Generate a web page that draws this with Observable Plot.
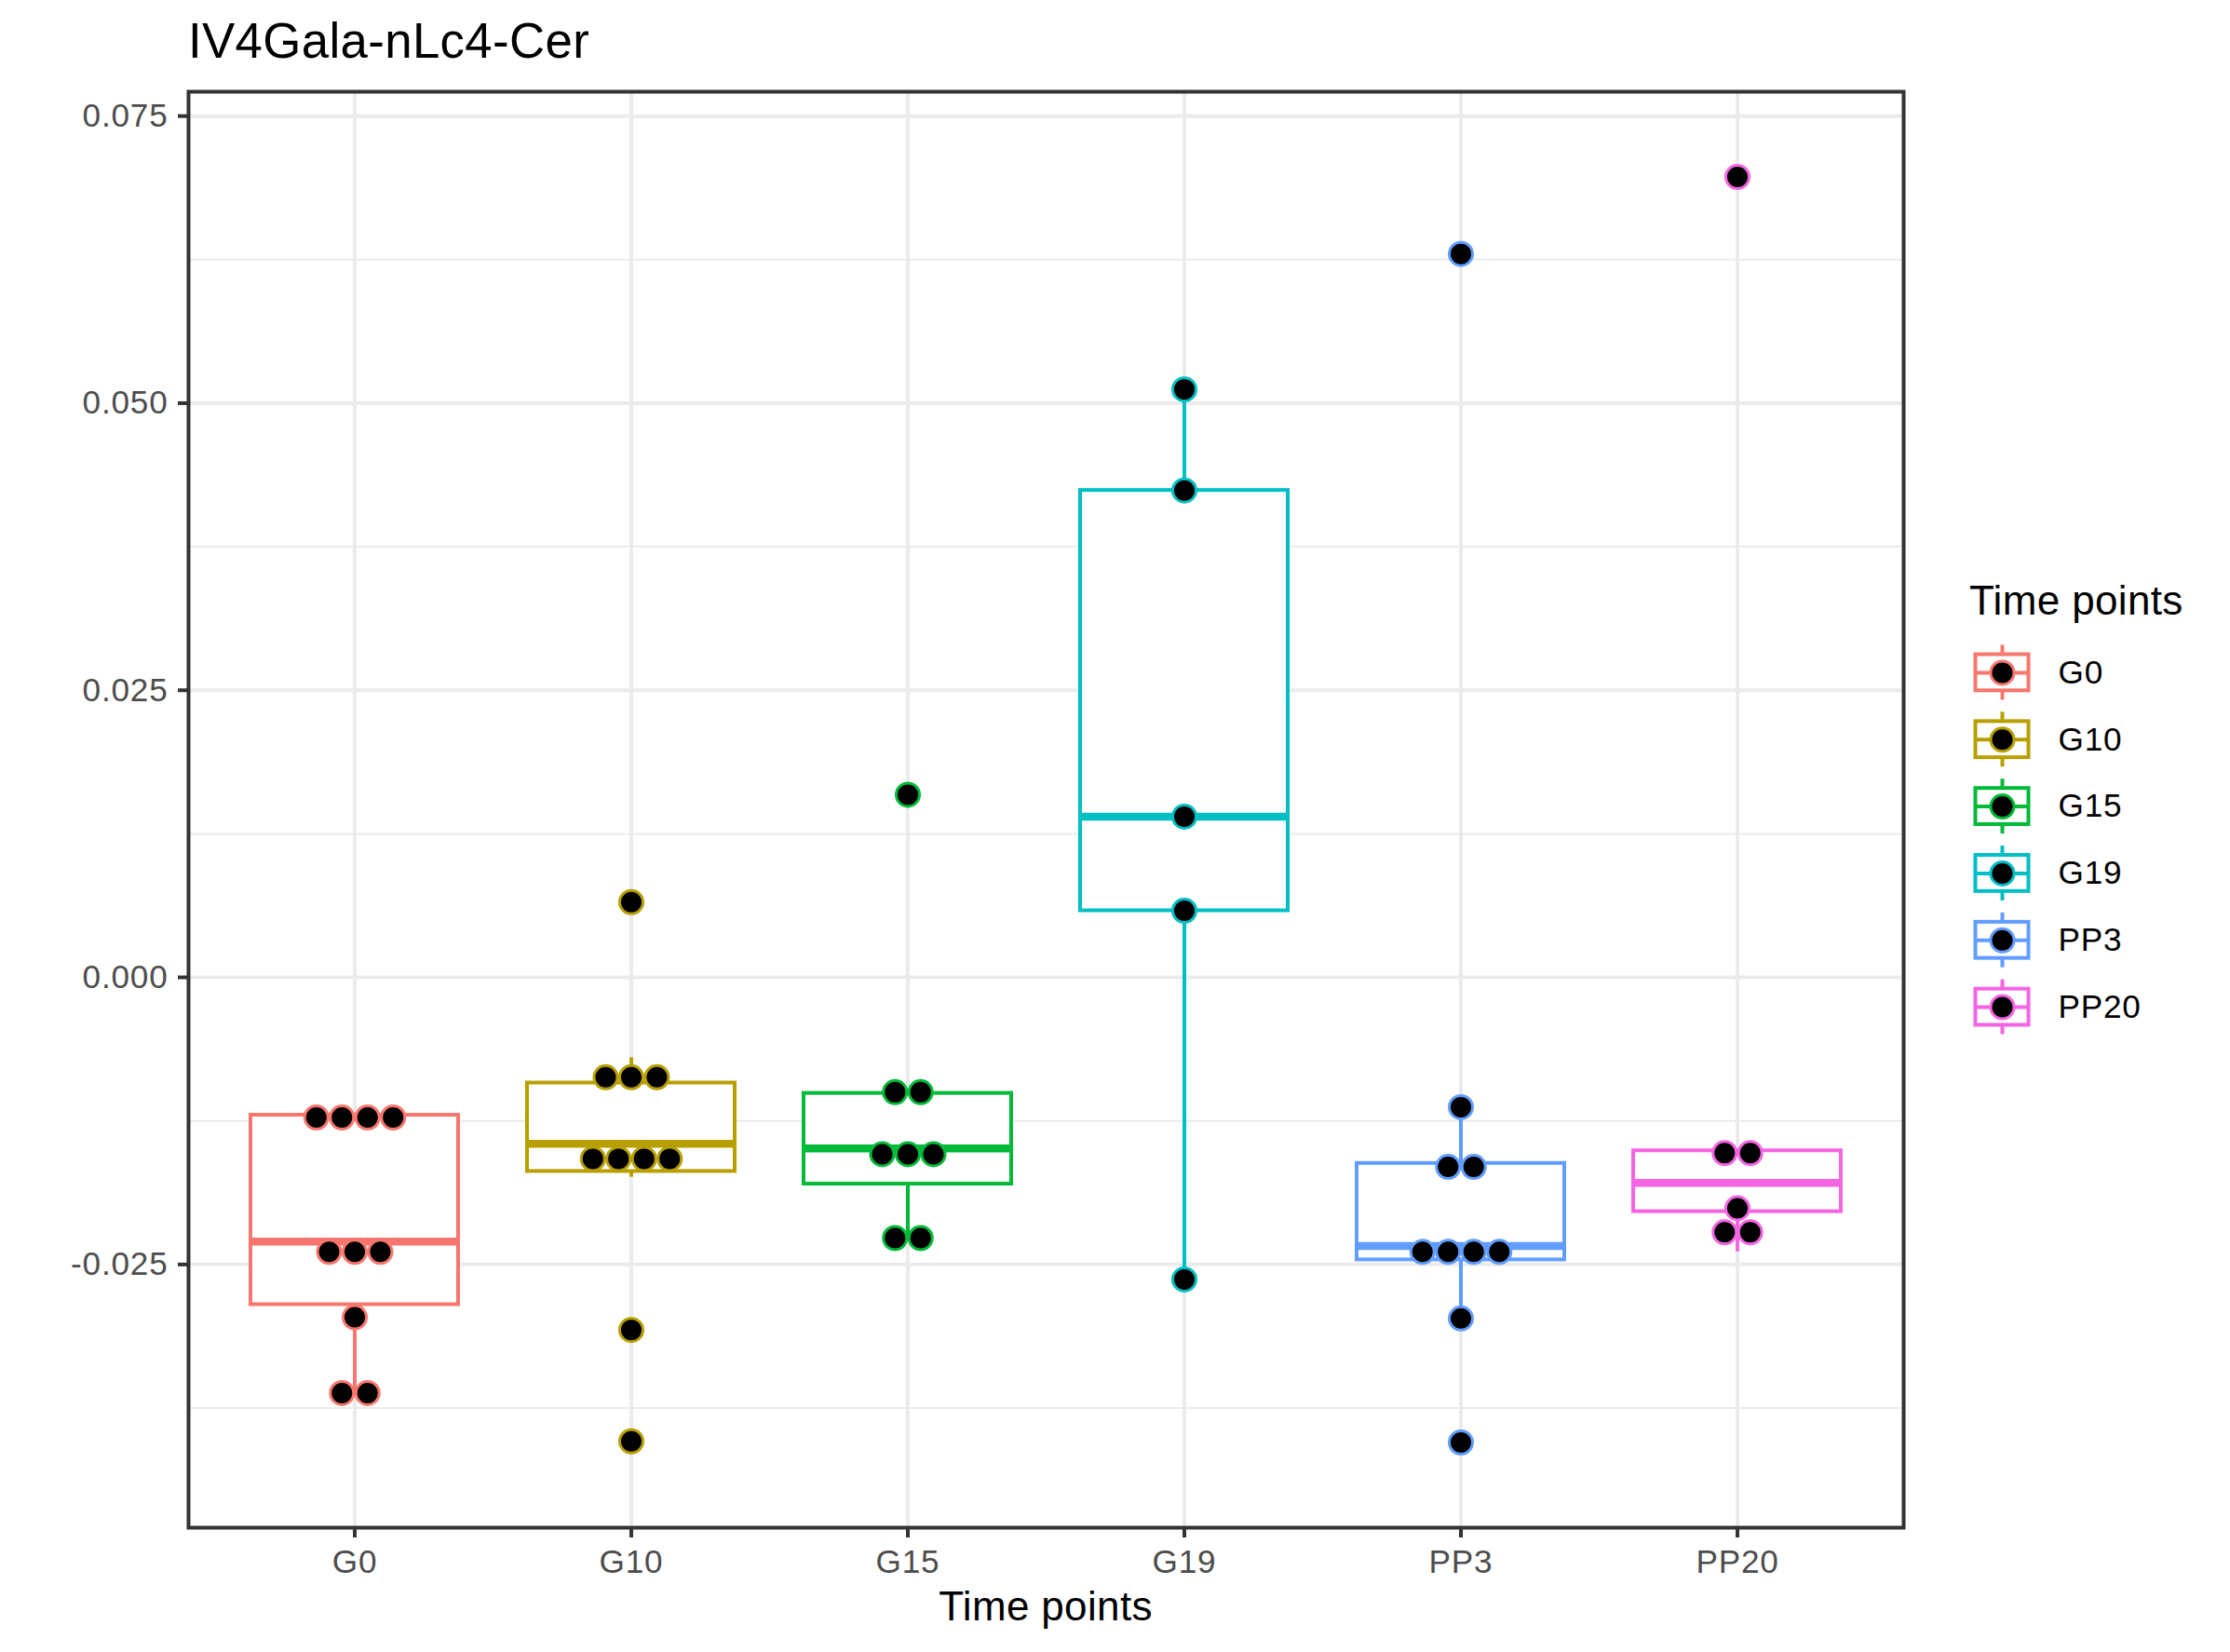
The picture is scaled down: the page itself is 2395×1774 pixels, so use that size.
<!DOCTYPE html>
<html><head><meta charset="utf-8">
<script src="https://cdn.jsdelivr.net/npm/d3@7"></script>
<script src="https://cdn.jsdelivr.net/npm/@observablehq/plot@0.6"></script>
<style>
html,body{margin:0;padding:0;background:#fff;}
#page{position:relative;width:2395px;height:1774px;font-family:"Liberation Sans",Arial,Helvetica,sans-serif;overflow:hidden;letter-spacing:0.022em;}
#title{position:absolute;left:202px;top:18px;font-size:52.8px;line-height:1;color:#000;white-space:nowrap;}
#chart{position:absolute;left:0;top:94px;}
#xtitle{position:absolute;left:202px;width:1842px;top:1703px;text-align:center;font-size:44px;line-height:1;color:#000;}
#legend{position:absolute;left:2100px;top:623px;}
#legendTitle{font-size:44px;line-height:1;margin-left:15px;white-space:nowrap;color:#000;}
</style></head>
<body><div id="page">
<div id="title">IV4Gala-nLc4-Cer</div>
<div id="chart"></div>
<div id="xtitle">Time points</div>
<div id="legend"><div id="legendTitle">Time points</div><div id="legendKeys"></div></div>
</div>
<script>
// ---- data ----
const categories = ["G0", "G10", "G15", "G19", "PP3", "PP20"];
const palette = ["#F8766D", "#B79F00", "#00BA38", "#00BFC4", "#619CFF", "#F564E3"];

// boxplot statistics
const q1Values     = [-0.0285, -0.0169, -0.0180, 0.0058, -0.0246, -0.0204];
const medianValues = [-0.0230, -0.0145, -0.0149, 0.0140, -0.0234, -0.0179];
const q3Values     = [-0.0120, -0.0092, -0.0101, 0.0424, -0.0162, -0.0151];
const whiskerLow   = [-0.0362, -0.0174, -0.0227, -0.0263, -0.0297, -0.0239];
const whiskerHigh  = [-0.0120, -0.0070, -0.0101, 0.0512, -0.0113, -0.0151];

// dot values (dot-plot bin centres)
const dotsG0   = [-0.0122, -0.0122, -0.0122, -0.0122, -0.0239, -0.0239, -0.0239, -0.0296, -0.0362, -0.0362];
const dotsG10  = [0.00655, -0.0087, -0.0087, -0.0087, -0.0158, -0.0158, -0.0158, -0.0158, -0.0307, -0.0404];
const dotsG15  = [0.0159, -0.0100, -0.0100, -0.0154, -0.0154, -0.0154, -0.0227, -0.0227];
const dotsG19  = [0.0512, 0.0424, 0.0140, 0.0058, -0.0263];
const dotsPP3  = [0.0630, -0.0113, -0.0165, -0.0165, -0.0239, -0.0239, -0.0239, -0.0239, -0.0297, -0.0405];
const dotsPP20 = [0.0697, -0.0153, -0.0153, -0.0201, -0.0222, -0.0222];

const yTicks = [-0.025, 0, 0.025, 0.05, 0.075];
const yMinorTicks = [-0.0375, -0.0125, 0.0125, 0.0375, 0.0625];
const yDomain = [-0.04792, 0.07712];

// ---- build tables ----
const dotLists = [dotsG0, dotsG10, dotsG15, dotsG19, dotsPP3, dotsPP20];
const boxRows = categories.map((c, i) => ({
  cat: c, q1: q1Values[i], med: medianValues[i], q3: q3Values[i], lo: whiskerLow[i], hi: whiskerHigh[i]
}));
const dotRows = [];
categories.forEach((c, i) => {
  const vals = dotLists[i];
  const counts = d3.rollup(vals, v => v.length, v => v);
  const seen = new Map();
  vals.forEach(v => {
    const k = counts.get(v);
    const j = seen.get(v) || 0;
    seen.set(v, j + 1);
    dotRows.push({cat: c, value: v, slot: j - (k - 1) / 2});
  });
});
const dotSpacing = 27.5;
const slots = [...new Set(dotRows.map(d => d.slot))].sort((a, b) => a - b);
const dotMarks = slots.map(s => Plot.dot(dotRows.filter(d => d.slot === s), {
  x: "cat", y: "value", dx: s * dotSpacing, r: 12.5, fill: "black", stroke: "cat", strokeWidth: 3
}));

const fmt = d => (d < 0 ? "-" : "") + Math.abs(d).toFixed(3);
const fontFamily = '"Liberation Sans", Arial, Helvetica, sans-serif';

const chart = Plot.plot({
  width: 2395, height: 1606,
  marginTop: 4, marginBottom: 60, marginLeft: 202, marginRight: 351,
  style: {fontFamily, fontSize: "35.2px", color: "#4D4D4D", background: "white", overflow: "visible", letterSpacing: "0.022em"},
  x: {type: "band", domain: categories, paddingInner: 0.25, paddingOuter: 0.225, align: 0.5},
  y: {domain: yDomain},
  color: {domain: categories, range: palette},
  marks: [
    Plot.gridY({ticks: yMinorTicks, stroke: "#EBEBEB", strokeOpacity: 1, strokeWidth: 2}),
    Plot.gridY({ticks: yTicks, stroke: "#EBEBEB", strokeOpacity: 1, strokeWidth: 4}),
    Plot.gridX({stroke: "#EBEBEB", strokeOpacity: 1, strokeWidth: 4}),
    Plot.ruleX(boxRows, {x: "cat", y1: "lo", y2: "q1", stroke: "cat", strokeWidth: 4}),
    Plot.ruleX(boxRows, {x: "cat", y1: "q3", y2: "hi", stroke: "cat", strokeWidth: 4}),
    Plot.barY(boxRows, {x: "cat", y1: "q1", y2: "q3", fill: "white", stroke: "cat", strokeWidth: 4}),
    Plot.tickY(boxRows, {x: "cat", y: "med", stroke: "cat", strokeWidth: 8.5}),
    ...dotMarks,
    Plot.frame({stroke: "#333333", strokeWidth: 4}),
    Plot.axisX({tickSize: 11, tickPadding: 12, stroke: "#333333", strokeWidth: 4, label: null}),
    Plot.axisY({ticks: yTicks, tickFormat: fmt, tickSize: 11, tickPadding: 11, stroke: "#333333", strokeWidth: 4, label: null})
  ]
});
document.getElementById("chart").appendChild(chart);

// ---- legend ----
const legendRows = categories.map((c, i) => ({cat: c, row: i}));
const keyX = 50, keyHalfW = 28.5, labelX = 110;
const legend = Plot.plot({
  width: 295, height: 470,
  marginTop: 19, marginBottom: 20, marginLeft: 0, marginRight: 0,
  style: {fontFamily, fontSize: "35.2px", color: "#000", background: "transparent", overflow: "visible", letterSpacing: "0.022em"},
  x: {domain: [0, 295], axis: null},
  y: {domain: [-0.5, 5.5], reverse: true, axis: null},
  color: {domain: categories, range: palette},
  marks: [
    Plot.ruleX(legendRows, {x: keyX, y1: d => d.row - 0.41, y2: d => d.row + 0.41, stroke: "cat", strokeWidth: 4}),
    Plot.rect(legendRows, {x1: keyX - keyHalfW, x2: keyX + keyHalfW, y1: d => d.row - 0.27, y2: d => d.row + 0.27, fill: "white", stroke: "cat", strokeWidth: 4}),
    Plot.ruleY(legendRows, {y: "row", x1: keyX - keyHalfW, x2: keyX + keyHalfW, stroke: "cat", strokeWidth: 4}),
    Plot.dot(legendRows, {x: keyX, y: "row", r: 12.5, fill: "black", stroke: "cat", strokeWidth: 3}),
    Plot.text(legendRows, {x: labelX, y: "row", text: "cat", textAnchor: "start", fill: "black", fontSize: 35.2})
  ]
});
document.getElementById("legendKeys").appendChild(legend);
</script>
</body></html>
